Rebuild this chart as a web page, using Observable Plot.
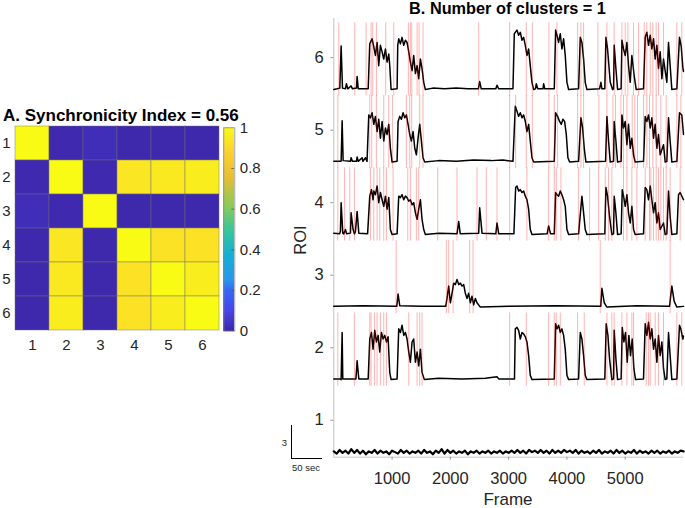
<!DOCTYPE html>
<html><head><meta charset="utf-8">
<script src="https://cdn.jsdelivr.net/npm/d3@7"></script>
<script src="https://cdn.jsdelivr.net/npm/@observablehq/plot@0.6"></script>
<style>
body{margin:0;background:#fff;}
#wrap{position:relative;width:685px;height:508px;overflow:hidden;font-family:"Liberation Sans",Arial,Helvetica,sans-serif;color:#262626;}
</style></head><body><div id="wrap"></div>
<script>
const FONT = '"Liberation Sans", Arial, Helvetica, sans-serif';

// ---------- Panel A data ----------
const roiLabels = [1, 2, 3, 4, 5, 6];
const syncMatrix = [
  [1.00, 0.01, 0.025, 0.005, 0.005, 0.005],
  [0.01, 1.00, 0.01, 0.94, 0.95, 0.96],
  [0.025, 0.01, 1.00, 0.005, 0.005, 0.005],
  [0.005, 0.94, 0.005, 1.00, 0.93, 0.93],
  [0.005, 0.95, 0.005, 0.93, 1.00, 0.96],
  [0.005, 0.96, 0.005, 0.93, 0.96, 1.00]
];
const colorbarTicks = [0, 0.2, 0.4, 0.6, 0.8, 1];
const parulaStops = [0, 0.1, 0.2, 0.25, 0.375, 0.5, 0.625, 0.75, 0.875, 1];
const parulaColors = ["#3e26a8", "#4746eb", "#3469f5", "#2797eb", "#12b1d6", "#37c897", "#91ca54", "#e7be30", "#fccf30", "#f9fb15"];

// ---------- Panel B data ----------
const roiTicks = [1, 2, 3, 4, 5, 6];
const frameTicks = [1000, 2000, 3000, 4000, 5000];
const frameDomain = [0, 6000];
const roiDomain = [0.49, 6.54];

// [frame, amplitude above baseline]
const trace6 = [[0,0],[57,0.01],[103,0.02],[126,0.6],[149,0.02],[200,0.01],[217,0.08],[240,0.01],[297,0.05],[320,0.01],[389,0.02],[400,0.18],[420,0.01],[590,0.01],
[617,0.63],[657,0.70],[686,0.59],[714,0.47],[743,0.65],[771,0.33],[800,0.61],[829,0.52],[857,0.42],[886,0.56],[914,0.38],[943,0.49],[960,0.33],[983,0.0],
[1086,0.01],[1097,0.61],[1114,0.70],[1143,0.63],[1171,0.72],[1200,0.61],[1229,0.68],[1257,0.65],[1286,0.52],[1314,0.38],[1343,0.26],[1371,0.47],[1400,0.22],[1429,0.33],[1457,0.15],[1486,0.42],[1514,0.29],[1543,0.10],[1571,0.0],
[1700,0.02],[1900,0.01],[2100,0.02],[2300,0.01],[2480,0.01],[2503,0.11],[2530,0.01],[2780,0.01],[2800,0.06],[2830,0.01],[3074,0.01],
[3097,0.77],[3143,0.82],[3171,0.75],[3200,0.79],[3229,0.68],[3257,0.72],[3286,0.61],[3314,0.47],[3343,0.56],[3371,0.33],[3400,0.10],[3429,0.0],[3460,0.01],[3474,0.08],[3500,0.01],[3590,0.01],[3600,0.08],[3620,0.01],[3783,0.01],
[3806,0.82],[3829,0.75],[3857,0.65],[3886,0.77],[3914,0.56],[3943,0.70],[3971,0.47],[4000,0.10],[4029,0.0],[4200,0.01],
[4229,0.72],[4257,0.65],[4286,0.42],[4314,0.10],[4343,0.0],[4560,0.01],[4583,0.10],[4600,0.01],[4650,0.01],
[4669,0.72],[4697,0.56],[4743,0.10],[4783,0.0],[4800,0.01],[4811,0.61],[4840,0.29],[4869,0.0],[4930,0.01],[4943,0.68],[4971,0.56],[5000,0.47],[5029,0.65],[5057,0.33],[5086,0.10],[5114,0.47],[5154,0.19],[5189,0.0],[5314,0.01],
[5343,0.72],[5371,0.79],[5400,0.61],[5429,0.75],[5457,0.56],[5486,0.70],[5514,0.42],[5543,0.61],[5571,0.29],[5600,0.52],[5629,0.15],[5657,0.42],[5714,0.10],[5743,0.65],[5771,0.33],[5800,0.0],[5886,0.01],[5931,0.72],[5960,0.60],[5989,0.30],[6000,0.25]];

const trace5 = [[0,0.01],[126,0.01],[143,0.57],[160,0.02],[286,0.01],[297,0.06],[320,0.01],[389,0.01],[400,0.07],[420,0.01],[486,0.06],[500,0.01],[543,0.06],[570,0.01],
[600,0.65],[629,0.61],[657,0.68],[686,0.52],[714,0.63],[743,0.42],[771,0.59],[800,0.33],[829,0.56],[857,0.29],[886,0.47],[914,0.38],[943,0.52],[971,0.19],[1000,0.0],
[1086,0.01],[1103,0.56],[1131,0.63],[1160,0.59],[1189,0.68],[1217,0.61],[1246,0.65],[1274,0.52],[1303,0.38],[1331,0.29],[1360,0.42],[1389,0.19],[1417,0.10],[1446,0.33],[1474,0.52],[1503,0.29],[1531,0.06],[1560,0.0],
[1800,0.02],[2100,0.01],[2400,0.03],[2700,0.02],[2900,0.03],[3074,0.01],
[3114,0.77],[3143,0.70],[3171,0.63],[3200,0.68],[3229,0.61],[3257,0.65],[3286,0.56],[3314,0.42],[3343,0.52],[3371,0.29],[3400,0.06],[3429,0.0],[3783,0.01],
[3806,0.68],[3840,0.63],[3874,0.56],[3903,0.52],[3931,0.59],[3960,0.56],[3989,0.38],[4017,0.06],[4046,0.0],[4200,0.01],
[4240,0.61],[4269,0.47],[4297,0.19],[4326,0.0],[4663,0.01],[4686,0.63],[4714,0.29],[4743,0.0],[4800,0.01],[4811,0.56],[4840,0.29],[4869,0.0],[4930,0.01],[4943,0.65],[4971,0.47],[5000,0.56],[5029,0.24],[5057,0.52],[5086,0.19],[5114,0.33],[5143,0.10],[5171,0.0],[5314,0.01],
[5343,0.63],[5371,0.56],[5400,0.65],[5429,0.47],[5457,0.61],[5486,0.33],[5514,0.52],[5543,0.19],[5571,0.38],[5600,0.10],[5657,0.24],[5686,0.0],[5714,0.01],[5743,0.61],[5771,0.29],[5800,0.0],[5886,0.01],[5931,0.68],[5971,0.65],[6000,0.38]];

const trace4 = [[0,0.02],[100,0.01],[114,0.05],[126,0.44],[154,0.02],[171,0.01],[200,0.07],[220,0.01],[286,0.02],[297,0.30],[331,0.07],[354,0.01],[371,0.04],[400,0.32],[429,0.02],[580,0.01],
[617,0.53],[646,0.62],[674,0.48],[686,0.60],[714,0.55],[743,0.67],[771,0.44],[800,0.58],[829,0.48],[857,0.39],[886,0.53],[914,0.35],[943,0.51],[971,0.07],[1000,0.0],
[1086,0.01],[1114,0.53],[1143,0.51],[1171,0.55],[1200,0.48],[1229,0.53],[1257,0.51],[1286,0.46],[1314,0.48],[1343,0.41],[1371,0.44],[1400,0.30],[1429,0.21],[1457,0.35],[1486,0.48],[1514,0.21],[1543,0.07],[1571,0.0],
[1800,0.02],[2114,0.01],[2143,0.18],[2170,0.01],[2486,0.02],[2503,0.37],[2543,0.02],[2780,0.01],[2800,0.16],[2830,0.01],[3090,0.01],
[3120,0.65],[3143,0.67],[3171,0.60],[3200,0.62],[3229,0.58],[3257,0.60],[3286,0.53],[3314,0.48],[3343,0.35],[3371,0.07],[3400,0.0],[3660,0.01],[3686,0.12],[3720,0.01],[3783,0.01],
[3806,0.58],[3829,0.55],[3857,0.53],[3886,0.60],[3914,0.55],[3943,0.48],[3971,0.39],[4000,0.07],[4029,0.0],[4200,0.01],
[4257,0.53],[4286,0.30],[4314,0.07],[4343,0.0],[4650,0.01],[4669,0.65],[4697,0.53],[4731,0.25],[4771,0.0],[4800,0.01],[4811,0.53],[4840,0.30],[4869,0.0],[4930,0.01],[4949,0.62],[4971,0.53],[5000,0.39],[5029,0.55],[5057,0.30],[5086,0.16],[5114,0.39],[5143,0.07],[5171,0.0],[5314,0.01],
[5343,0.65],[5371,0.62],[5400,0.48],[5429,0.67],[5457,0.48],[5486,0.30],[5514,0.44],[5543,0.16],[5571,0.30],[5600,0.07],[5657,0.16],[5686,0.0],[5714,0.01],[5743,0.60],[5771,0.25],[5800,0.0],[5886,0.01],[5914,0.55],[5943,0.58],[5971,0.53],[6000,0.48]];

const trace3 = [[0,0.01],[500,0.02],[1080,0.01],[1103,0.18],[1131,0.02],[1500,0.01],[1920,0.01],[1943,0.12],[1971,0.29],[2000,0.06],[2029,0.19],[2057,0.33],[2086,0.31],[2114,0.38],[2143,0.31],[2171,0.33],[2200,0.29],[2229,0.31],[2257,0.19],[2286,0.12],[2314,0.19],[2343,0.06],[2371,0.15],[2400,0.03],[2429,0.12],[2457,0.06],[2514,0.0],[3000,0.01],[3800,0.02],[4580,0.01],[4600,0.26],[4640,0.06],[4686,0.0],[5200,0.02],[5760,0.01],[5800,0.29],[5840,0.08],[5886,0.0],[6000,0.01]];

const trace2 = [[0,0.01],[114,0.01],[126,0.0],[143,0.65],[154,0.01],[380,0.01],[400,0.26],[429,0.01],[590,0.01],
[617,0.56],[646,0.65],[674,0.42],[703,0.68],[731,0.52],[760,0.61],[789,0.38],[817,0.65],[846,0.56],[874,0.61],[903,0.52],[931,0.59],[960,0.10],[983,0.0],
[1086,0.01],[1114,0.70],[1143,0.65],[1171,0.75],[1200,0.61],[1229,0.65],[1257,0.56],[1286,0.38],[1314,0.24],[1343,0.52],[1371,0.56],[1400,0.24],[1429,0.38],[1457,0.19],[1486,0.42],[1514,0.10],[1554,0.0],
[1800,0.02],[2200,0.01],[2600,0.02],[2800,0.04],[2830,0.01],[3100,0.01],
[3114,0.70],[3143,0.72],[3171,0.68],[3200,0.56],[3229,0.65],[3257,0.63],[3286,0.59],[3314,0.52],[3343,0.33],[3371,0.06],[3400,0.0],[3783,0.01],
[3806,0.77],[3829,0.70],[3857,0.75],[3886,0.65],[3914,0.70],[3943,0.61],[3971,0.42],[4000,0.06],[4029,0.0],[4200,0.01],
[4229,0.65],[4257,0.56],[4286,0.33],[4314,0.06],[4343,0.0],[4650,0.01],
[4674,0.77],[4703,0.61],[4731,0.29],[4771,0.0],[4800,0.01],[4811,0.68],[4840,0.29],[4869,0.0],[4930,0.01],[4949,0.72],[4977,0.52],[5006,0.65],[5034,0.24],[5063,0.61],[5091,0.33],[5120,0.56],[5149,0.15],[5177,0.0],[5314,0.01],
[5343,0.77],[5371,0.61],[5400,0.79],[5429,0.56],[5457,0.70],[5486,0.42],[5514,0.56],[5543,0.24],[5571,0.61],[5600,0.33],[5629,0.52],[5657,0.15],[5686,0.0],[5714,0.01],[5743,0.65],[5771,0.33],[5800,0.0],[5886,0.01],[5931,0.75],[5954,0.70],[5989,0.56],[6000,0.6]];

// ROI 1: only noise, sampled every 50 frames
const trace1Step = 50;
const trace1Noise = [0.01,-0.02,0.03,-0.01,0.02,-0.02,0.04,-0.01,0.03,-0.02,
0.02,-0.03,0.01,-0.01,0.03,-0.02,0.02,-0.01,0.01,-0.03,
0.02,0.00,-0.02,0.03,-0.01,0.02,-0.02,0.01,-0.01,0.02,
-0.02,0.03,-0.01,0.01,-0.03,0.02,-0.01,0.04,-0.02,0.03,
-0.01,0.02,-0.02,0.01,-0.01,0.02,-0.03,0.01,-0.01,0.02,
-0.02,0.01,-0.01,0.02,-0.02,0.01,-0.01,0.02,-0.02,0.01,
-0.01,0.02,-0.01,0.03,-0.01,0.02,-0.02,0.03,0.00,0.02,
-0.01,0.03,-0.01,0.02,-0.02,0.03,-0.01,0.02,-0.01,0.03,
0.00,0.02,-0.01,0.03,-0.02,0.02,-0.01,0.01,-0.02,0.02,
-0.01,0.03,-0.02,0.01,-0.01,0.02,-0.02,0.03,-0.01,0.02,
-0.02,0.01,-0.01,0.03,-0.02,0.02,-0.01,0.01,-0.02,0.02,
-0.01,0.02,-0.02,0.01,-0.01,0.02,-0.02,0.01,-0.01,0.02,
0.01];

// event (red line) frames per ROI
const events6 = [86,360,554,640,669,731,891,1029,1280,1314,1337,1429,1463,1531,2486,3017,3303,3406,3691,3829,4183,4240,4286,4531,4686,4811,4943,5000,5046,5143,5229,5326,5371,5429,5474,5531,5571,5657,5886,5971];
const events5 = [69,617,651,731,857,943,1006,1246,1303,1337,1474,1531,3017,3120,3303,3406,3691,3783,3840,4183,4240,4286,4549,4686,4789,4834,4926,4971,5029,5120,5166,5211,5314,5371,5417,5474,5531,5611,5703,5886,5954];
const events4 = [69,183,274,354,629,686,743,789,857,903,1017,1269,1314,1417,1457,1783,2114,2457,2617,2800,3017,3314,3686,3783,3817,3897,4200,4389,4543,4657,4714,4771,4971,5029,5114,5200,5343,5417,5440,5486,5531,5571,5611,5657,5703,5771,5943];
const events3 = [1069,1931,1971,2046,2331,2389,4571,5771];
const events2 = [69,354,617,640,697,743,800,857,903,1286,1429,1474,1514,3017,3303,3686,3783,3817,3886,4183,4297,4686,4771,4811,4943,5029,5114,5143,5360,5400,5429,5514,5571,5657,5886,5971];

const baselineOffset = 0.44;

// ---------- helpers ----------
const wrap = document.getElementById("wrap");
function place(el, left, top) {
  el.style.position = "absolute"; el.style.left = left + "px"; el.style.top = top + "px";
  wrap.appendChild(el); return el;
}
function label(str, left, top, css) {
  const d = document.createElement("div");
  d.textContent = str;
  d.style.cssText = `position:absolute;left:${left}px;top:${top}px;white-space:nowrap;line-height:1;` + css;
  wrap.appendChild(d); return d;
}

const colorScale = {type: "linear", domain: parulaStops, range: parulaColors, clamp: true};

// ---------- Panel A: heatmap ----------
const cells = [];
syncMatrix.forEach((row, i) => row.forEach((v, j) => cells.push({row: roiLabels[i], col: roiLabels[j], value: v})));

const heat = Plot.plot({
  width: 270, height: 260,
  marginLeft: 15, marginRight: 50.7, marginTop: 26, marginBottom: 29.3,
  style: {fontFamily: FONT, fontSize: "15px", color: "#262626", background: "transparent"},
  x: {type: "band", domain: roiLabels, padding: 0, label: null},
  y: {type: "band", domain: roiLabels, padding: 0, label: null},
  color: colorScale,
  marks: [
    Plot.cell(cells, {x: "col", y: "row", fill: "value", stroke: "#6e6e6e", strokeOpacity: 0.45, strokeWidth: 1}),
    Plot.axisX({anchor: "bottom", tickSize: 0, tickPadding: 8, fontSize: 15, label: null}),
    Plot.axisY({anchor: "left", tickSize: 0, tickPadding: 5, fontSize: 15, label: null})
  ]
});
place(heat, 0, 100);

// colorbar
const cbStep = 0.01;
const cbValues = d3.range(0, 1, cbStep);
const cbar = Plot.plot({
  width: 60, height: 220,
  marginLeft: 5.3, marginRight: 43.7, marginTop: 7.3, marginBottom: 9.3,
  style: {fontFamily: FONT, fontSize: "15px", color: "#262626", background: "transparent"},
  x: {axis: null},
  y: {domain: [0, 1], label: null, axis: null},
  color: colorScale,
  marks: [
    Plot.rect(cbValues, {y1: d => d, y2: d => Math.min(1, d + 2 * cbStep), fill: d => d + cbStep / 2, shapeRendering: "crispEdges"}),
    Plot.tickY(colorbarTicks.slice(1, -1), {y: d => d, insetLeft: 8, stroke: "#555", strokeWidth: 0.8}),
    Plot.frame({stroke: "#8a8a8a", strokeWidth: 0.8}),
    Plot.axisY({anchor: "right", ticks: colorbarTicks, tickFormat: d => String(d), tickSize: 0, tickPadding: 5, fontSize: 15, label: null})
  ]
});
place(cbar, 218, 120);

label("A. Synchronicity Index = 0.56", 3, 106.8, "font-size:17px;font-weight:bold;color:#000;");

// ---------- Panel B: traces ----------
const traceList = [
  {roi: 2, pts: trace2}, {roi: 3, pts: trace3}, {roi: 4, pts: trace4},
  {roi: 5, pts: trace5}, {roi: 6, pts: trace6}
];
const traceRows = [];
traceList.forEach(t => t.pts.forEach(([f, a]) => traceRows.push({roi: t.roi, frame: f, value: t.roi - baselineOffset + a})));
const trace1Rows = trace1Noise.map((a, i) => ({roi: 1, frame: i * trace1Step, value: 1 - baselineOffset + a}));

const eventList = [
  {roi: 2, frames: events2}, {roi: 3, frames: events3}, {roi: 4, frames: events4},
  {roi: 5, frames: events5}, {roi: 6, frames: events6}
];
const eventRows = [];
eventList.forEach(e => e.frames.forEach(f => eventRows.push({roi: e.roi, frame: f})));

const panelB = Plot.plot({
  width: 415, height: 508,
  marginLeft: 63.3, marginRight: 2, marginTop: 18, marginBottom: 51.3,
  style: {fontFamily: FONT, fontSize: "16.5px", color: "#262626", background: "transparent"},
  x: {domain: frameDomain, label: null},
  y: {domain: roiDomain, label: null},
  marks: [
    Plot.ruleX([frameDomain[0]], {stroke: "#c4c4c4"}),
    Plot.ruleY([roiDomain[0]], {stroke: "#c4c4c4"}),
    Plot.axisX({ticks: frameTicks, tickFormat: "d", tickSize: 3, tickPadding: 12, stroke: "#9a9a9a", fontSize: 16.5, label: null}),
    Plot.axisY({ticks: roiTicks, tickFormat: "d", tickSize: 3, tickPadding: 7, stroke: "#9a9a9a", fontSize: 16.5, label: null}),
    Plot.line(traceRows, {x: "frame", y: "value", z: "roi", stroke: "#000", strokeWidth: 1.5, strokeLinejoin: "round"}),
    Plot.line(trace1Rows, {x: "frame", y: "value", stroke: "#000", strokeWidth: 2.2}),
    Plot.ruleX(eventRows, {x: "frame", y1: d => d.roi - 0.53, y2: d => d.roi + 0.48, stroke: "#ff0000", strokeOpacity: 0.3, strokeWidth: 1})
  ]
});
place(panelB, 270, 0);

label("B. Number of clusters = 1", 507.5, 0, "font-size:16.3px;font-weight:bold;color:#000;transform:translateX(-50%);");
label("ROI", 300, 240, "font-size:16.5px;transform:translate(-50%,-50%) rotate(-90deg);");
label("Frame", 508, 490.6, "font-size:17px;transform:translateX(-50%);");

// scale bar
const bar = document.createElement("div");
bar.style.cssText = "position:absolute;left:291px;top:425px;width:30px;height:33px;border-left:1.3px solid #000;border-bottom:1.3px solid #000;";
wrap.appendChild(bar);
label("3", 284.3, 443, "font-size:9.5px;transform:translate(-50%,-50%);");
label("50 sec", 306, 467.5, "font-size:9.5px;transform:translate(-50%,-50%);");
</script>
</body></html>
